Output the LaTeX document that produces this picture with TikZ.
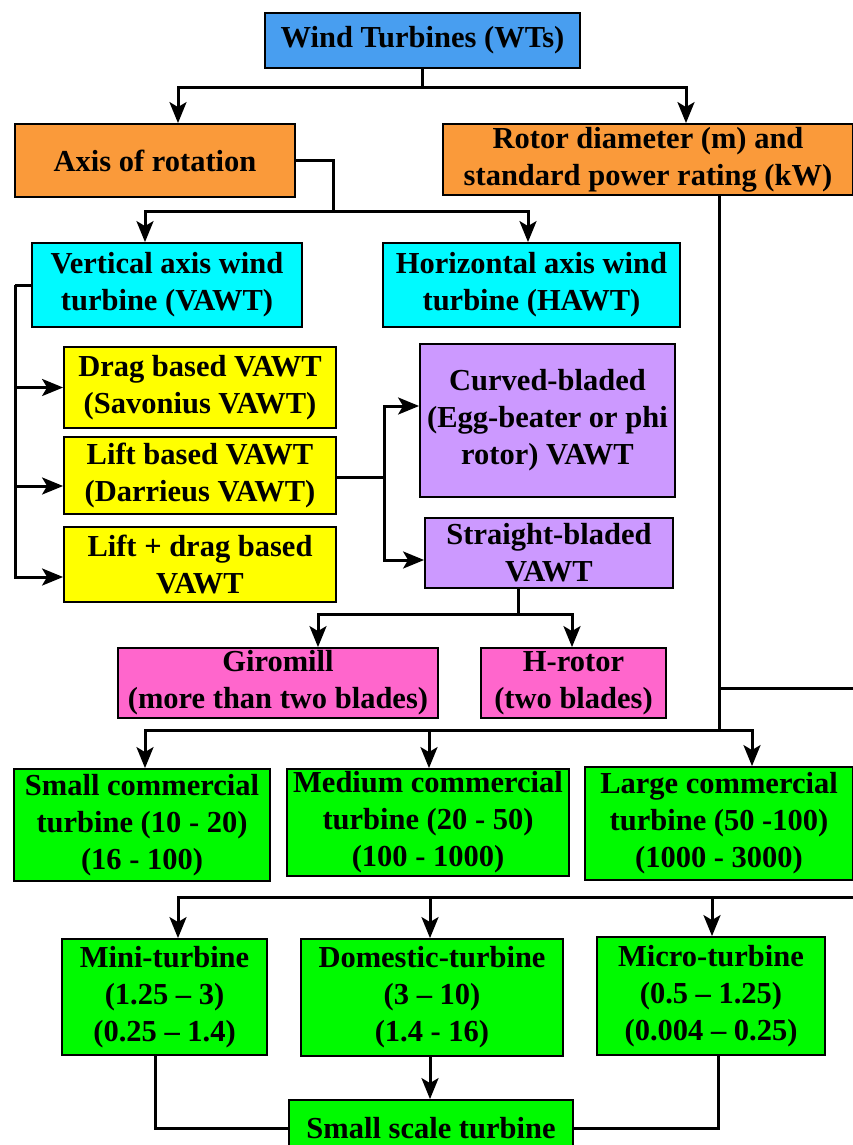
\documentclass[tikz,border=0pt]{standalone}
\usepackage{fontspec}
\setmainfont{Liberation Serif}
\usepackage{tikz}
\usetikzlibrary{arrows.meta,calc}
\definecolor{wtblue}{RGB}{72,158,240}
\definecolor{axorange}{RGB}{250,154,58}
\definecolor{vcyan}{RGB}{0,250,255}
\definecolor{lyellow}{RGB}{255,255,0}
\definecolor{cpurple}{RGB}{204,153,255}
\definecolor{gpink}{RGB}{255,102,204}
\definecolor{sgreen}{RGB}{0,250,0}

\begin{document}
\begin{tikzpicture}[x=1pt,y=-1pt,
    box/.style={draw=black,line width=1.8pt,align=center,inner sep=0pt,
        font=\fontsize{30.5}{37}\selectfont\bfseries},
    line/.style={line width=3pt},
    arr/.style={line width=3pt,-{Stealth[length=21pt,width=17pt,inset=5pt]}}]
    \clip (0,0) rectangle (853,1145);
    \useasboundingbox (0,0) rectangle (853,1145);
    % boxes
    \node[box,fill=wtblue,minimum width=315,minimum height=55]    (wt) at (422.5,40.5) {Wind Turbines (WTs)};
    \node[box,fill=axorange,minimum width=280,minimum height=73]  (axis) at (155,160.5) {Axis of rotation};
    \node[box,fill=axorange,minimum width=410,minimum height=71]  (rotor) at (648,159.5) {Rotor diameter (m) and\\standard power rating (kW)};
    \node[box,fill=vcyan,minimum width=270,minimum height=84]     (vawt) at (167,285) {Vertical axis wind\\turbine (VAWT)};
    \node[box,fill=vcyan,minimum width=297,minimum height=84]     (hawt) at (531.5,285) {Horizontal axis wind\\turbine (HAWT)};
    \node[box,fill=lyellow,minimum width=272,minimum height=81]   (drag) at (200,387.5) {Drag based VAWT\\(Savonius VAWT)};
    \node[box,fill=lyellow,minimum width=272,minimum height=77]   (lift) at (200,475.5) {Lift based VAWT\\(Darrieus VAWT)};
    \node[box,fill=lyellow,minimum width=272,minimum height=75]   (liftdrag) at (200,564.5) {Lift + drag based\\VAWT};
    \node[box,fill=cpurple,minimum width=255,minimum height=153]  (curved) at (547.5,420.5) {Curved-bladed\\(Egg-beater or phi\\rotor) VAWT};
    \node[box,fill=cpurple,minimum width=248,minimum height=70]   (straight) at (549,553) {Straight-bladed\\VAWT};
    \node[box,fill=gpink,minimum width=320,minimum height=70]     (giro) at (278,683) {Giromill\\(more than two blades)};
    \node[box,fill=gpink,minimum width=185,minimum height=70]     (hrot) at (573.5,683) {H-rotor\\(two blades)};
    \node[box,fill=sgreen,minimum width=256,minimum height=112]   (smallc) at (142,825) {Small commercial\\turbine (10 - 20)\\(16 - 100)};
    \node[box,fill=sgreen,minimum width=282,minimum height=107]   (medc) at (428,822.5) {Medium commercial\\turbine (20 - 50)\\(100 - 1000)};
    \node[box,fill=sgreen,minimum width=268,minimum height=113]   (largec) at (719,823.5) {Large commercial\\turbine (50 -100)\\(1000 - 3000)};
    \node[box,fill=sgreen,minimum width=205,minimum height=116]   (mini) at (164.5,997) {Mini-turbine\\(1.25 – 3)\\(0.25 – 1.4)};
    \node[box,fill=sgreen,minimum width=262,minimum height=117]   (domestic) at (432,997.5) {Domestic-turbine\\(3 – 10)\\(1.4 - 16)};
    \node[box,fill=sgreen,minimum width=228,minimum height=118]   (micro) at (711,996) {Micro-turbine\\(0.5 – 1.25)\\(0.004 – 0.25)};
    \node[box,fill=sgreen,minimum width=284,minimum height=56]    (smallscale) at (431,1128) {Small scale turbine};
    % junctions
    \coordinate (wtj) at (422.5,88);
    \coordinate (axj) at (333,211);
    \coordinate (vj) at (15,285);
    \coordinate (lj) at (384,477);
    \coordinate (sj) at (518,614);
    \coordinate (rj) at (719,730);
    \coordinate (rout) at (853,688);
    \coordinate (cin) at (853,897);
    % connectors
    \draw[line] (wt.south) -- (wtj);
    \draw[arr] (wtj) -| (178,0 |- axis.north);
    \draw[arr] (wtj) -| (686,0 |- rotor.north);
    \draw[line] (axis.east) -| (axj);
    \draw[arr] (axj) -| (145,0 |- vawt.north);
    \draw[arr] (axj) -| (528,0 |- hawt.north);
    \draw[line] (vawt.west) -- (vj);
    \draw[arr] (vj) |- (drag.west);
    \draw[arr] (vj) |- (lift.west |- 0,486);
    \draw[arr] (vj) |- (liftdrag.west |- 0,577);
    \draw[line] (lift.east |- lj) -- (lj);
    \draw[arr] (lj) |- (curved.west |- 0,406);
    \draw[arr] (lj) |- (straight.west |- 0,560);
    \draw[line] (518,0 |- straight.south) -- (sj);
    \draw[arr] (sj) -| (318,0 |- giro.north);
    \draw[arr] (sj) -| (572,0 |- hrot.north);
    \draw[line] (719,0 |- rotor.south) -- (rj);
    \draw[line] (719,0 |- rout) -- (rout);
    \draw[arr] (rj) -| (145,0 |- smallc.north);
    \draw[arr] (rj) -| (429,0 |- medc.north);
    \draw[arr] (rj) -| (752,0 |- largec.north);
    \draw[line] (cin) -- (178,0 |- cin);
    \draw[arr] (cin) -| (178,0 |- mini.north);
    \draw[arr] (430,0 |- cin) -- (430,0 |- domestic.north);
    \draw[arr] (712,0 |- cin) -- (712,0 |- micro.north);
    \draw[arr] (430,0 |- domestic.south) -- (430,0 |- smallscale.north);
    \draw[line] (155,0 |- mini.south) |- (smallscale.west);
    \draw[line] (718,0 |- micro.south) |- (smallscale.east);
\end{tikzpicture}
\end{document}
